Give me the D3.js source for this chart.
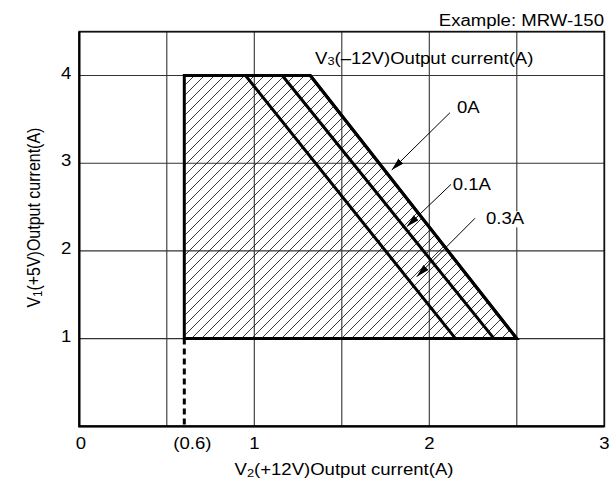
<!DOCTYPE html>
<html>
<head>
<meta charset="utf-8">
<script src="https://cdn.jsdelivr.net/npm/d3@7"></script>
<style>
  body { margin: 0; background: #fff; }
  text { font-family: "Liberation Sans", Arial, sans-serif; font-size: 16px; fill: #000; }
</style>
</head>
<body>
<script>
var width = 612,
    height = 479;

var margin = {top: 31.7, right: 7.7, bottom: 52.7, left: 79.3};

// data
var xTicks = [0, 0.6, 1, 2, 3];
var xTickLabels = ["0", "(0.6)", "1", "2", "3"];
var yTicks = [1, 2, 3, 4];
var xGrid = [0.5, 1, 1.5, 2, 2.5];
var yGrid = [1, 2, 3, 4];

var v3Currents = ["0A", "0.1A", "0.3A"];
var limitTopX = [1.32, 1.16, 0.95];     // where each limit meets V1 = 4A
var limitBottomX = [2.5, 2.37, 2.15];   // where each limit meets V1 = 1A
var minV2 = 0.6, minV1 = 1, maxV1 = 4;

// arrows: start (near label) -> tip (on the limit line), label anchor
var arrowFrom = [[2.118, 3.576], [2.124, 2.759], [2.261, 2.372]];
var arrowTo = [[1.785, 2.922], [1.871, 2.276], [1.928, 1.706]];
var labelAt = [[2.158, 3.573], [2.134, 2.694], [2.324, 2.303]];

var stretch = 1.16;

var svg = d3.select('body')
    .append('svg')
    .attr('width', width)
    .attr('height', height);

var x = d3.scaleLinear().domain([0, 3]).range([margin.left, width - margin.right]);
var y = d3.scaleLinear().domain([0, 4.5]).range([height - margin.bottom, margin.top]);

var defs = svg.append("defs");
var pat = defs.append("pattern")
    .attr("id", "hatch")
    .attr("patternUnits", "userSpaceOnUse")
    .attr("width", 10)
    .attr("height", 10);
pat.append("path")
    .attr("d", "M0,10 L10,0 M-2,2 L2,-2 M8,12 L12,8")
    .attr("stroke", "#222")
    .attr("stroke-width", 0.9);

defs.append("marker")
    .attr("id", "arrow")
    .attr("markerUnits", "userSpaceOnUse")
    .attr("viewBox", "0 0 13 7")
    .attr("refX", 13)
    .attr("refY", 3.5)
    .attr("markerWidth", 13)
    .attr("markerHeight", 7)
    .attr("orient", "auto")
  .append("path")
    .attr("d", "M0,0 L13,3.5 L0,7 Z")
    .attr("fill", "#000");

function stretchText(parent, px, py, anchor, rotate) {
  return parent.append("text")
      .attr("text-anchor", anchor)
      .attr("transform", "translate(" + px + "," + py + ") scale(" + stretch + ",1)" + (rotate ? " rotate(-90)" : ""));
}

// grid
var grid = svg.append("g").attr("class", "grid");
grid.selectAll("line.v")
    .data(xGrid)
    .enter().append("line")
      .attr("class", "v")
      .attr("x1", function(d) { return x(d); })
      .attr("x2", function(d) { return x(d); })
      .attr("y1", y(0))
      .attr("y2", y(4.5))
      .attr("stroke", "#333")
      .attr("stroke-width", 1.1);
grid.selectAll("line.h")
    .data(yGrid)
    .enter().append("line")
      .attr("class", "h")
      .attr("x1", x(0))
      .attr("x2", x(3))
      .attr("y1", function(d) { return y(d); })
      .attr("y2", function(d) { return y(d); })
      .attr("stroke", "#333")
      .attr("stroke-width", 1.1);

// frame
svg.append("rect")
    .attr("x", x(0))
    .attr("y", y(4.5))
    .attr("width", x(3) - x(0))
    .attr("height", y(0) - y(4.5))
    .attr("fill", "none")
    .attr("stroke", "#111")
    .attr("stroke-width", 1.8);
svg.append("path")
    .attr("d", "M" + x(0) + "," + y(4.5) + " V" + y(0) + " H" + x(3))
    .attr("fill", "none")
    .attr("stroke", "#000")
    .attr("stroke-width", 2.2);

// derating region (0A limit is the outer edge)
var region = [[minV2, minV1], [minV2, maxV1], [limitTopX[0], maxV1], [limitBottomX[0], minV1]];
var line = d3.line().x(function(d) { return x(d[0]); }).y(function(d) { return y(d[1]); });

svg.append("path")
    .attr("d", line(region) + "Z")
    .attr("fill", "url(#hatch)")
    .attr("stroke", "#000")
    .attr("stroke-width", 3)
    .attr("stroke-linejoin", "miter");

svg.selectAll("line.limit")
    .data(v3Currents)
    .enter().append("line")
      .attr("class", "limit")
      .attr("x1", function(d, i) { return x(limitTopX[i]); })
      .attr("y1", y(maxV1))
      .attr("x2", function(d, i) { return x(limitBottomX[i]); })
      .attr("y2", y(minV1))
      .attr("stroke", "#000")
      .attr("stroke-width", 3);

// dashed minimum V2 line
svg.append("line")
    .attr("x1", x(minV2))
    .attr("x2", x(minV2))
    .attr("y1", y(minV1))
    .attr("y2", y(0))
    .attr("stroke", "#000")
    .attr("stroke-width", 3)
    .attr("stroke-dasharray", "6,4");

// annotations
var ann = svg.append("g").attr("class", "annotations");
v3Currents.forEach(function(name, i) {
  ann.append("line")
      .attr("x1", x(arrowFrom[i][0]))
      .attr("y1", y(arrowFrom[i][1]))
      .attr("x2", x(arrowTo[i][0]))
      .attr("y2", y(arrowTo[i][1]))
      .attr("stroke", "#000")
      .attr("stroke-width", 1)
      .attr("marker-end", "url(#arrow)");
  var t = stretchText(ann, x(labelAt[i][0]), y(labelAt[i][1]), "start").text(name);
  var bb = t.node().getBBox();
  ann.insert("rect", function() { return t.node(); })
      .attr("x", x(labelAt[i][0]) - 1)
      .attr("y", y(labelAt[i][1]) - 13)
      .attr("width", bb.width * stretch + 2)
      .attr("height", 16)
      .attr("fill", "#fff");
});

// tick labels
svg.selectAll("text.xtick")
    .data(xTicks)
    .enter().append("text")
      .attr("class", "xtick")
      .attr("text-anchor", "middle")
      .attr("transform", function(d, i) {
        var dx = (d === minV2) ? 8 : (i === 0 ? 1.5 : 0);
        return "translate(" + (x(d) + dx) + ",449) scale(" + stretch + ",1)";
      })
      .text(function(d, i) { return xTickLabels[i]; });

svg.selectAll("text.ytick")
    .data(yTicks)
    .enter().append("text")
      .attr("class", "ytick")
      .attr("text-anchor", "end")
      .attr("transform", function(d) { return "translate(" + (x(0) - 8) + "," + (y(d) + 3) + ") scale(" + stretch + ",1)"; })
      .text(function(d) { return d; });

// titles
var xt = stretchText(svg, 344, 475, "middle");
xt.append("tspan").text("V");
xt.append("tspan").attr("font-size", "11px").attr("dy", 1.5).text("2");
xt.append("tspan").attr("dy", -1.5).text("(+12V)Output current(A)");

var yt = stretchText(svg, 40, 217.5, "middle", true);
yt.append("tspan").text("V");
yt.append("tspan").attr("font-size", "11px").attr("dy", 1.5).text("1");
yt.append("tspan").attr("dy", -1.5).text("(+5V)Output current(A)");

var v3 = stretchText(svg, 315, 63.5, "start");
v3.append("tspan").text("V");
v3.append("tspan").attr("font-size", "11px").attr("dy", 1.5).text("3");
v3.append("tspan").attr("dy", -1.5).text("(\u201312V)Output current(A)");

stretchText(svg, width - 8, 26, "end").text("Example: MRW-150");
</script>
</body>
</html>
